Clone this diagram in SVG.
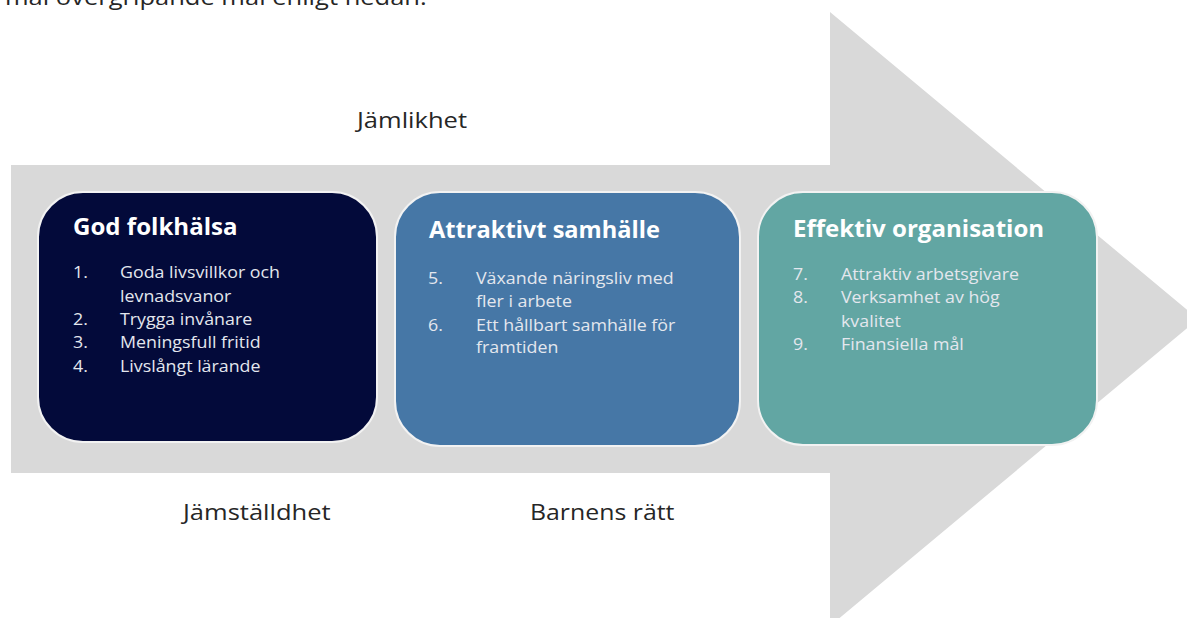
<svg xmlns="http://www.w3.org/2000/svg" width="1187" height="618" viewBox="0 0 1187 618">
<style>
.lbl{font-family:"Open Sans","Liberation Sans",sans-serif;font-size:22px;fill:#262626}
.ttl{font-family:"Open Sans","Liberation Sans",sans-serif;font-size:22.5px;font-weight:bold;fill:#ffffff}
.itm{font-family:"Open Sans","Liberation Sans",sans-serif;font-size:15.5px;fill:#e4e7ee}
.box{stroke:#f2f2f2;stroke-width:2}
</style>
<rect width="1187" height="618" fill="#ffffff"/>
<text class="lbl" transform="translate(5,5) scale(1.16,1)">mål övergripande mål enligt nedan.</text>
<g id="arrow">
<path d="M11 165 H830 V12 L1198 319 L830 626 V473 H11 Z" fill="#d9d9d9"/>
</g>
<g id="connectors"></g>
<g id="labels">
<text class="lbl" transform="translate(357,128) scale(1.16,1)">Jämlikhet</text>
<text class="lbl" transform="translate(183,520) scale(1.16,1)">Jämställdhet</text>
<text class="lbl" transform="translate(530,520) scale(1.13,1)">Barnens rätt</text>
</g>
<g id="node-folkhalsa">
<rect class="box" x="38" y="192" width="339" height="250" rx="45" fill="#030a3a"/>
<text class="ttl" transform="translate(73,235) scale(1.07,1)">God folkhälsa</text>
<g class="itm">
<text transform="translate(73,278) scale(1.15,1)">1.</text><text transform="translate(120,278) scale(1.15,1)">Goda livsvillkor och</text>
<text transform="translate(120,302) scale(1.15,1)">levnadsvanor</text>
<text transform="translate(73,325) scale(1.15,1)">2.</text><text transform="translate(120,325) scale(1.15,1)">Trygga invånare</text>
<text transform="translate(73,348) scale(1.15,1)">3.</text><text transform="translate(120,348) scale(1.15,1)">Meningsfull fritid</text>
<text transform="translate(73,372) scale(1.15,1)">4.</text><text transform="translate(120,372) scale(1.15,1)">Livslångt lärande</text>
</g>
</g>
<g id="node-samhalle">
<rect class="box" x="395" y="192" width="345" height="254" rx="45" fill="#4677a6"/>
<text class="ttl" transform="translate(429,238) scale(1.05,1)">Attraktivt samhälle</text>
<g class="itm">
<text transform="translate(428,284) scale(1.15,1)">5.</text><text transform="translate(476,284) scale(1.15,1)">Växande näringsliv med</text>
<text transform="translate(476,307) scale(1.15,1)">fler i arbete</text>
<text transform="translate(428,331) scale(1.15,1)">6.</text><text transform="translate(476,331) scale(1.15,1)">Ett hållbart samhälle för</text>
<text transform="translate(476,353) scale(1.15,1)">framtiden</text>
</g>
</g>
<g id="node-organisation">
<rect class="box" x="758" y="192" width="339" height="253" rx="45" fill="#62a6a3"/>
<text class="ttl" transform="translate(793,237) scale(1.07,1)">Effektiv organisation</text>
<g class="itm">
<text transform="translate(793,280) scale(1.15,1)">7.</text><text transform="translate(841,280) scale(1.15,1)">Attraktiv arbetsgivare</text>
<text transform="translate(793,303) scale(1.15,1)">8.</text><text transform="translate(841,303) scale(1.15,1)">Verksamhet av hög</text>
<text transform="translate(841,327) scale(1.15,1)">kvalitet</text>
<text transform="translate(793,350) scale(1.15,1)">9.</text><text transform="translate(841,350) scale(1.15,1)">Finansiella mål</text>
</g>
</g>
</svg>
